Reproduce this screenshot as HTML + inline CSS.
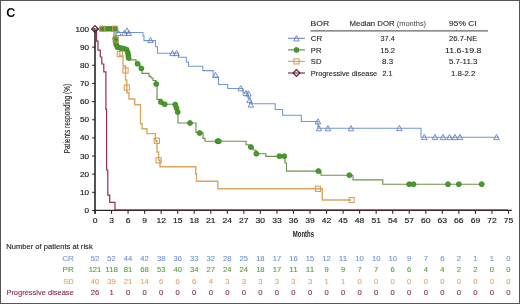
<!DOCTYPE html>
<html><head><meta charset="utf-8"><style>
html,body{margin:0;padding:0;background:#fff;}
.wrap{position:relative;width:520px;height:304px;overflow:hidden;background:#fff;}
svg{position:absolute;left:0;top:0;will-change:transform;}
text{font-family:"Liberation Sans", sans-serif;}
.tk{font-size:6.9px;fill:#222;stroke:#222;stroke-width:0.15px;}
.ylab{font-size:8.2px;fill:#222;stroke:#222;stroke-width:0.12px;}
.xlab{font-size:9px;fill:#222;font-weight:bold;}
.panel{font-size:12.5px;font-weight:bold;fill:#111;}
.lg{font-size:7.4px;fill:#1e1e1e;stroke:#1e1e1e;stroke-width:0.1px;}
.lgl{font-size:7.2px;fill:#444;}
.rk{font-size:7.8px;stroke-width:0.12px;}
</style></head><body><div class="wrap">
<svg width="520" height="304" viewBox="0 0 520 304">
<rect x="0.5" y="0.5" width="519" height="303" fill="#fff" stroke="#555" stroke-width="1"/>
<line x1="95" y1="28.5" x2="95" y2="213.8" stroke="#262626" stroke-width="1.6"/><line x1="94.5" y1="210.3" x2="511.8" y2="210.3" stroke="#262626" stroke-width="1.3"/><line x1="92.2" y1="210.50" x2="95" y2="210.50" stroke="#262626" stroke-width="1.1"/><text x="89.10" y="213.00" class="tk" text-anchor="end" textLength="4.55" lengthAdjust="spacingAndGlyphs">0</text><line x1="92.2" y1="192.35" x2="95" y2="192.35" stroke="#262626" stroke-width="1.1"/><text x="89.10" y="194.85" class="tk" text-anchor="end" textLength="9.10" lengthAdjust="spacingAndGlyphs">10</text><line x1="92.2" y1="174.20" x2="95" y2="174.20" stroke="#262626" stroke-width="1.1"/><text x="89.10" y="176.70" class="tk" text-anchor="end" textLength="9.10" lengthAdjust="spacingAndGlyphs">20</text><line x1="92.2" y1="156.05" x2="95" y2="156.05" stroke="#262626" stroke-width="1.1"/><text x="89.10" y="158.55" class="tk" text-anchor="end" textLength="9.10" lengthAdjust="spacingAndGlyphs">30</text><line x1="92.2" y1="137.90" x2="95" y2="137.90" stroke="#262626" stroke-width="1.1"/><text x="89.10" y="140.40" class="tk" text-anchor="end" textLength="9.10" lengthAdjust="spacingAndGlyphs">40</text><line x1="92.2" y1="119.75" x2="95" y2="119.75" stroke="#262626" stroke-width="1.1"/><text x="89.10" y="122.25" class="tk" text-anchor="end" textLength="9.10" lengthAdjust="spacingAndGlyphs">50</text><line x1="92.2" y1="101.60" x2="95" y2="101.60" stroke="#262626" stroke-width="1.1"/><text x="89.10" y="104.10" class="tk" text-anchor="end" textLength="9.10" lengthAdjust="spacingAndGlyphs">60</text><line x1="92.2" y1="83.45" x2="95" y2="83.45" stroke="#262626" stroke-width="1.1"/><text x="89.10" y="85.95" class="tk" text-anchor="end" textLength="9.10" lengthAdjust="spacingAndGlyphs">70</text><line x1="92.2" y1="65.30" x2="95" y2="65.30" stroke="#262626" stroke-width="1.1"/><text x="89.10" y="67.80" class="tk" text-anchor="end" textLength="9.10" lengthAdjust="spacingAndGlyphs">80</text><line x1="92.2" y1="47.15" x2="95" y2="47.15" stroke="#262626" stroke-width="1.1"/><text x="89.10" y="49.65" class="tk" text-anchor="end" textLength="9.10" lengthAdjust="spacingAndGlyphs">90</text><line x1="92.2" y1="29.00" x2="95" y2="29.00" stroke="#262626" stroke-width="1.1"/><text x="89.10" y="31.50" class="tk" text-anchor="end" textLength="13.65" lengthAdjust="spacingAndGlyphs">100</text><line x1="95.00" y1="210.3" x2="95.00" y2="213.8" stroke="#262626" stroke-width="1.1"/><text x="95.00" y="223.30" class="tk" text-anchor="middle" textLength="4.75" lengthAdjust="spacingAndGlyphs">0</text><line x1="111.54" y1="210.3" x2="111.54" y2="213.8" stroke="#262626" stroke-width="1.1"/><text x="111.54" y="223.30" class="tk" text-anchor="middle" textLength="4.75" lengthAdjust="spacingAndGlyphs">3</text><line x1="128.08" y1="210.3" x2="128.08" y2="213.8" stroke="#262626" stroke-width="1.1"/><text x="128.08" y="223.30" class="tk" text-anchor="middle" textLength="4.75" lengthAdjust="spacingAndGlyphs">6</text><line x1="144.62" y1="210.3" x2="144.62" y2="213.8" stroke="#262626" stroke-width="1.1"/><text x="144.62" y="223.30" class="tk" text-anchor="middle" textLength="4.75" lengthAdjust="spacingAndGlyphs">9</text><line x1="161.16" y1="210.3" x2="161.16" y2="213.8" stroke="#262626" stroke-width="1.1"/><text x="161.16" y="223.30" class="tk" text-anchor="middle" textLength="9.50" lengthAdjust="spacingAndGlyphs">12</text><line x1="177.69" y1="210.3" x2="177.69" y2="213.8" stroke="#262626" stroke-width="1.1"/><text x="177.69" y="223.30" class="tk" text-anchor="middle" textLength="9.50" lengthAdjust="spacingAndGlyphs">15</text><line x1="194.23" y1="210.3" x2="194.23" y2="213.8" stroke="#262626" stroke-width="1.1"/><text x="194.23" y="223.30" class="tk" text-anchor="middle" textLength="9.50" lengthAdjust="spacingAndGlyphs">18</text><line x1="210.77" y1="210.3" x2="210.77" y2="213.8" stroke="#262626" stroke-width="1.1"/><text x="210.77" y="223.30" class="tk" text-anchor="middle" textLength="9.50" lengthAdjust="spacingAndGlyphs">21</text><line x1="227.31" y1="210.3" x2="227.31" y2="213.8" stroke="#262626" stroke-width="1.1"/><text x="227.31" y="223.30" class="tk" text-anchor="middle" textLength="9.50" lengthAdjust="spacingAndGlyphs">24</text><line x1="243.85" y1="210.3" x2="243.85" y2="213.8" stroke="#262626" stroke-width="1.1"/><text x="243.85" y="223.30" class="tk" text-anchor="middle" textLength="9.50" lengthAdjust="spacingAndGlyphs">27</text><line x1="260.39" y1="210.3" x2="260.39" y2="213.8" stroke="#262626" stroke-width="1.1"/><text x="260.39" y="223.30" class="tk" text-anchor="middle" textLength="9.50" lengthAdjust="spacingAndGlyphs">30</text><line x1="276.93" y1="210.3" x2="276.93" y2="213.8" stroke="#262626" stroke-width="1.1"/><text x="276.93" y="223.30" class="tk" text-anchor="middle" textLength="9.50" lengthAdjust="spacingAndGlyphs">33</text><line x1="293.47" y1="210.3" x2="293.47" y2="213.8" stroke="#262626" stroke-width="1.1"/><text x="293.47" y="223.30" class="tk" text-anchor="middle" textLength="9.50" lengthAdjust="spacingAndGlyphs">36</text><line x1="310.01" y1="210.3" x2="310.01" y2="213.8" stroke="#262626" stroke-width="1.1"/><text x="310.01" y="223.30" class="tk" text-anchor="middle" textLength="9.50" lengthAdjust="spacingAndGlyphs">39</text><line x1="326.55" y1="210.3" x2="326.55" y2="213.8" stroke="#262626" stroke-width="1.1"/><text x="326.55" y="223.30" class="tk" text-anchor="middle" textLength="9.50" lengthAdjust="spacingAndGlyphs">42</text><line x1="343.09" y1="210.3" x2="343.09" y2="213.8" stroke="#262626" stroke-width="1.1"/><text x="343.09" y="223.30" class="tk" text-anchor="middle" textLength="9.50" lengthAdjust="spacingAndGlyphs">45</text><line x1="359.62" y1="210.3" x2="359.62" y2="213.8" stroke="#262626" stroke-width="1.1"/><text x="359.62" y="223.30" class="tk" text-anchor="middle" textLength="9.50" lengthAdjust="spacingAndGlyphs">48</text><line x1="376.16" y1="210.3" x2="376.16" y2="213.8" stroke="#262626" stroke-width="1.1"/><text x="376.16" y="223.30" class="tk" text-anchor="middle" textLength="9.50" lengthAdjust="spacingAndGlyphs">51</text><line x1="392.70" y1="210.3" x2="392.70" y2="213.8" stroke="#262626" stroke-width="1.1"/><text x="392.70" y="223.30" class="tk" text-anchor="middle" textLength="9.50" lengthAdjust="spacingAndGlyphs">54</text><line x1="409.24" y1="210.3" x2="409.24" y2="213.8" stroke="#262626" stroke-width="1.1"/><text x="409.24" y="223.30" class="tk" text-anchor="middle" textLength="9.50" lengthAdjust="spacingAndGlyphs">57</text><line x1="425.78" y1="210.3" x2="425.78" y2="213.8" stroke="#262626" stroke-width="1.1"/><text x="425.78" y="223.30" class="tk" text-anchor="middle" textLength="9.50" lengthAdjust="spacingAndGlyphs">60</text><line x1="442.32" y1="210.3" x2="442.32" y2="213.8" stroke="#262626" stroke-width="1.1"/><text x="442.32" y="223.30" class="tk" text-anchor="middle" textLength="9.50" lengthAdjust="spacingAndGlyphs">63</text><line x1="458.86" y1="210.3" x2="458.86" y2="213.8" stroke="#262626" stroke-width="1.1"/><text x="458.86" y="223.30" class="tk" text-anchor="middle" textLength="9.50" lengthAdjust="spacingAndGlyphs">66</text><line x1="475.40" y1="210.3" x2="475.40" y2="213.8" stroke="#262626" stroke-width="1.1"/><text x="475.40" y="223.30" class="tk" text-anchor="middle" textLength="9.50" lengthAdjust="spacingAndGlyphs">69</text><line x1="491.94" y1="210.3" x2="491.94" y2="213.8" stroke="#262626" stroke-width="1.1"/><text x="491.94" y="223.30" class="tk" text-anchor="middle" textLength="9.50" lengthAdjust="spacingAndGlyphs">72</text><line x1="508.47" y1="210.3" x2="508.47" y2="213.8" stroke="#262626" stroke-width="1.1"/><text x="508.47" y="223.30" class="tk" text-anchor="middle" textLength="9.50" lengthAdjust="spacingAndGlyphs">75</text><text transform="translate(69.9,118.6) rotate(-90)" text-anchor="middle" class="ylab" textLength="69.5" lengthAdjust="spacingAndGlyphs">Patients responding (%)</text><text x="303.40" y="236.90" class="xlab" text-anchor="middle" textLength="21.20" lengthAdjust="spacingAndGlyphs">Months</text><text x="6.20" y="17.00" class="panel">C</text><path d="M95,29 H96.5 V41.2 H98 V50.2 H100.3 V57 H101.8 V64 H103.8 V71.8 H105.9 V109.3 H106.6 V170 H107.8 V195.2 H109.7 V202.4 H115 V210.3" fill="none" stroke="#922e50" stroke-width="1.2"/><line x1="114.5" y1="210.3" x2="508" y2="210.3" stroke="#45202c" stroke-width="1.4"/><path d="M95,29 H116 V47 H119.8 V56 H123 V66 H125.5 V80 H126.8 V92.8 H129 V99 H134.7 V104.8 H140.5 V123.7 H142.1 V128.7 H147 V133.6 H155.4 V140.8 H157 V152 H158.6 V160.3 H160 V166.8 H195.8 V174 H196.5 V181.2 H217.8 V188.8 H322.3 V200 H351.5" fill="none" stroke="#dca560" stroke-width="1.4"/><path d="M95,29 H114 V38 H116 V46 H120 V48 H126 V52 H128.5 V59.9 H136 V64 H140 V68.4 H142 V73.4 H149 V76.3 H151 V78 H153 V80.5 H156 V84 H157 V99.3 H161 V104.2 H175.5 V108 H177 V112 H178 V123 H196 V132.5 H203 V138.4 H205 V141.2 H246 V144.7 H249 V147.1 H253 V150 H256 V153.7 H265.8 V156.4 H285 V163 H286.5 V171.1 H321 V175.2 H353 V179.9 H382.8 V184.2 H482" fill="none" stroke="#6f9050" stroke-width="1.15"/><path d="M95,29 H116 V32.5 H143 V36 H144 V40.6 H155.5 V46.7 H157.5 V53.2 H178.4 V57.3 H186.3 V62 H188.5 V66.3 H202.8 V70.6 H213.2 V77 H218.5 V84.4 H227.8 V88.4 H243 V93 H248 V98 H250 V103.7 H275.2 V109.5 H282.6 V115.2 H301.3 V121.4 H318 V128.2 H421 V137.2 H499" fill="none" stroke="#7396d2" stroke-width="1.05"/><rect x="117.20" y="51.40" width="5.2" height="5.2" fill="none" stroke="#cf9a58" stroke-width="1"/><rect x="122.90" y="67.90" width="5.2" height="5.2" fill="none" stroke="#cf9a58" stroke-width="1"/><rect x="124.20" y="85.00" width="5.2" height="5.2" fill="none" stroke="#cf9a58" stroke-width="1"/><rect x="154.20" y="138.20" width="5.2" height="5.2" fill="none" stroke="#cf9a58" stroke-width="1"/><rect x="156.00" y="157.70" width="5.2" height="5.2" fill="none" stroke="#cf9a58" stroke-width="1"/><rect x="315.40" y="186.20" width="5.2" height="5.2" fill="none" stroke="#cf9a58" stroke-width="1"/><rect x="349.00" y="197.40" width="5.2" height="5.2" fill="none" stroke="#cf9a58" stroke-width="1"/><circle cx="102.20" cy="28.80" r="2.5" fill="#4c9a2c" stroke="#34801f" stroke-width="0.7"/><circle cx="105.00" cy="28.80" r="2.5" fill="#4c9a2c" stroke="#34801f" stroke-width="0.7"/><circle cx="108.00" cy="28.80" r="2.5" fill="#4c9a2c" stroke="#34801f" stroke-width="0.7"/><circle cx="111.00" cy="28.80" r="2.5" fill="#4c9a2c" stroke="#34801f" stroke-width="0.7"/><circle cx="113.50" cy="28.80" r="2.5" fill="#4c9a2c" stroke="#34801f" stroke-width="0.7"/><circle cx="115.20" cy="28.80" r="2.5" fill="#4c9a2c" stroke="#34801f" stroke-width="0.7"/><circle cx="115.20" cy="38.50" r="2.5" fill="#4c9a2c" stroke="#34801f" stroke-width="0.7"/><circle cx="115.60" cy="41.50" r="2.5" fill="#4c9a2c" stroke="#34801f" stroke-width="0.7"/><circle cx="116.20" cy="44.50" r="2.5" fill="#4c9a2c" stroke="#34801f" stroke-width="0.7"/><circle cx="117.50" cy="47.20" r="2.5" fill="#4c9a2c" stroke="#34801f" stroke-width="0.7"/><circle cx="120.50" cy="48.00" r="2.5" fill="#4c9a2c" stroke="#34801f" stroke-width="0.7"/><circle cx="123.50" cy="48.50" r="2.5" fill="#4c9a2c" stroke="#34801f" stroke-width="0.7"/><circle cx="126.50" cy="49.50" r="2.5" fill="#4c9a2c" stroke="#34801f" stroke-width="0.7"/><circle cx="127.80" cy="52.50" r="2.5" fill="#4c9a2c" stroke="#34801f" stroke-width="0.7"/><circle cx="128.30" cy="55.50" r="2.5" fill="#4c9a2c" stroke="#34801f" stroke-width="0.7"/><circle cx="128.60" cy="58.00" r="2.5" fill="#4c9a2c" stroke="#34801f" stroke-width="0.7"/><circle cx="137.50" cy="63.80" r="2.5" fill="#4c9a2c" stroke="#34801f" stroke-width="0.7"/><circle cx="141.40" cy="68.40" r="2.5" fill="#4c9a2c" stroke="#34801f" stroke-width="0.7"/><circle cx="156.20" cy="84.00" r="2.5" fill="#4c9a2c" stroke="#34801f" stroke-width="0.7"/><circle cx="160.80" cy="102.00" r="2.5" fill="#4c9a2c" stroke="#34801f" stroke-width="0.7"/><circle cx="164.70" cy="104.20" r="2.5" fill="#4c9a2c" stroke="#34801f" stroke-width="0.7"/><circle cx="175.30" cy="104.60" r="2.5" fill="#4c9a2c" stroke="#34801f" stroke-width="0.7"/><circle cx="176.50" cy="108.00" r="2.5" fill="#4c9a2c" stroke="#34801f" stroke-width="0.7"/><circle cx="177.70" cy="112.00" r="2.5" fill="#4c9a2c" stroke="#34801f" stroke-width="0.7"/><circle cx="190.00" cy="123.00" r="2.5" fill="#4c9a2c" stroke="#34801f" stroke-width="0.7"/><circle cx="199.60" cy="133.00" r="2.5" fill="#4c9a2c" stroke="#34801f" stroke-width="0.7"/><circle cx="217.60" cy="141.20" r="2.5" fill="#4c9a2c" stroke="#34801f" stroke-width="0.7"/><circle cx="218.80" cy="141.20" r="2.5" fill="#4c9a2c" stroke="#34801f" stroke-width="0.7"/><circle cx="250.90" cy="147.10" r="2.5" fill="#4c9a2c" stroke="#34801f" stroke-width="0.7"/><circle cx="256.30" cy="153.70" r="2.5" fill="#4c9a2c" stroke="#34801f" stroke-width="0.7"/><circle cx="279.40" cy="156.20" r="2.5" fill="#4c9a2c" stroke="#34801f" stroke-width="0.7"/><circle cx="284.30" cy="156.20" r="2.5" fill="#4c9a2c" stroke="#34801f" stroke-width="0.7"/><circle cx="318.40" cy="171.10" r="2.5" fill="#4c9a2c" stroke="#34801f" stroke-width="0.7"/><circle cx="349.40" cy="175.20" r="2.5" fill="#4c9a2c" stroke="#34801f" stroke-width="0.7"/><circle cx="409.20" cy="184.20" r="2.5" fill="#4c9a2c" stroke="#34801f" stroke-width="0.7"/><circle cx="413.50" cy="184.20" r="2.5" fill="#4c9a2c" stroke="#34801f" stroke-width="0.7"/><circle cx="448.00" cy="184.20" r="2.5" fill="#4c9a2c" stroke="#34801f" stroke-width="0.7"/><circle cx="458.80" cy="184.20" r="2.5" fill="#4c9a2c" stroke="#34801f" stroke-width="0.7"/><circle cx="481.70" cy="184.20" r="2.5" fill="#4c9a2c" stroke="#34801f" stroke-width="0.7"/><rect x="99.60" y="26.20" width="5.2" height="5.2" fill="none" stroke="#cf9a58" stroke-width="1"/><rect x="112.60" y="26.20" width="5.2" height="5.2" fill="none" stroke="#cf9a58" stroke-width="1"/><rect x="113.20" y="36.90" width="5.2" height="5.2" fill="none" stroke="#cf9a58" stroke-width="1"/><path d="M118.50,30.39 L121.25,35.61 L115.75,35.61 Z" fill="none" stroke="#6580be" stroke-width="0.9"/><path d="M124.50,30.19 L127.25,35.41 L121.75,35.41 Z" fill="none" stroke="#6580be" stroke-width="0.9"/><path d="M127.00,27.89 L129.75,33.11 L124.25,33.11 Z" fill="none" stroke="#6580be" stroke-width="0.9"/><path d="M128.80,30.19 L131.55,35.41 L126.05,35.41 Z" fill="none" stroke="#6580be" stroke-width="0.9"/><path d="M150.50,37.39 L153.25,42.61 L147.75,42.61 Z" fill="none" stroke="#6580be" stroke-width="0.9"/><path d="M172.50,50.39 L175.25,55.61 L169.75,55.61 Z" fill="none" stroke="#6580be" stroke-width="0.9"/><path d="M176.50,50.39 L179.25,55.61 L173.75,55.61 Z" fill="none" stroke="#6580be" stroke-width="0.9"/><path d="M215.50,72.39 L218.25,77.61 L212.75,77.61 Z" fill="none" stroke="#6580be" stroke-width="0.9"/><path d="M240.70,85.59 L243.45,90.81 L237.95,90.81 Z" fill="none" stroke="#6580be" stroke-width="0.9"/><path d="M245.80,90.39 L248.55,95.61 L243.05,95.61 Z" fill="none" stroke="#6580be" stroke-width="0.9"/><path d="M248.50,90.89 L251.25,96.11 L245.75,96.11 Z" fill="none" stroke="#6580be" stroke-width="0.9"/><path d="M249.50,97.39 L252.25,102.61 L246.75,102.61 Z" fill="none" stroke="#6580be" stroke-width="0.9"/><path d="M250.80,101.89 L253.55,107.11 L248.05,107.11 Z" fill="none" stroke="#6580be" stroke-width="0.9"/><path d="M318.00,118.79 L320.75,124.01 L315.25,124.01 Z" fill="none" stroke="#6580be" stroke-width="0.9"/><path d="M319.00,125.59 L321.75,130.81 L316.25,130.81 Z" fill="none" stroke="#6580be" stroke-width="0.9"/><path d="M328.00,125.59 L330.75,130.81 L325.25,130.81 Z" fill="none" stroke="#6580be" stroke-width="0.9"/><path d="M351.00,125.59 L353.75,130.81 L348.25,130.81 Z" fill="none" stroke="#6580be" stroke-width="0.9"/><path d="M399.40,125.39 L402.15,130.61 L396.65,130.61 Z" fill="none" stroke="#6580be" stroke-width="0.9"/><path d="M424.30,134.39 L427.05,139.61 L421.55,139.61 Z" fill="none" stroke="#6580be" stroke-width="0.9"/><path d="M435.00,134.39 L437.75,139.61 L432.25,139.61 Z" fill="none" stroke="#6580be" stroke-width="0.9"/><path d="M443.00,134.39 L445.75,139.61 L440.25,139.61 Z" fill="none" stroke="#6580be" stroke-width="0.9"/><path d="M449.50,134.39 L452.25,139.61 L446.75,139.61 Z" fill="none" stroke="#6580be" stroke-width="0.9"/><path d="M455.00,134.39 L457.75,139.61 L452.25,139.61 Z" fill="none" stroke="#6580be" stroke-width="0.9"/><path d="M460.00,134.39 L462.75,139.61 L457.25,139.61 Z" fill="none" stroke="#6580be" stroke-width="0.9"/><path d="M496.50,134.39 L499.25,139.61 L493.75,139.61 Z" fill="none" stroke="#6580be" stroke-width="0.9"/><path d="M95,25.6 L98.4,29 L95,32.4 L91.6,29 Z" fill="none" stroke="#5e1a2e" stroke-width="1.2"/>
<text x="310.50" y="25.80" class="lg" textLength="18.60" lengthAdjust="spacingAndGlyphs">BOR</text><text x="349.60" y="25.80" class="lg" textLength="45.00" lengthAdjust="spacingAndGlyphs">Median DOR</text><text x="396.70" y="25.80" class="lgl" textLength="29.40" lengthAdjust="spacingAndGlyphs">(months)</text><text x="462.80" y="25.80" class="lg" text-anchor="middle" textLength="27.40" lengthAdjust="spacingAndGlyphs">95% CI</text><line x1="310.5" y1="30.9" x2="488" y2="30.9" stroke="#666" stroke-width="1.3"/><line x1="288" y1="38.3" x2="305" y2="38.3" stroke="#7396d2" stroke-width="1.2"/><text x="310.80" y="40.70" class="lg" textLength="11.40" lengthAdjust="spacingAndGlyphs">CR</text><text x="387.60" y="40.70" class="lg" text-anchor="middle" textLength="14.20" lengthAdjust="spacingAndGlyphs">37.4</text><text x="463.20" y="40.70" class="lg" text-anchor="middle" textLength="28.30" lengthAdjust="spacingAndGlyphs">26.7-NE</text><line x1="288" y1="49.9" x2="305" y2="49.9" stroke="#6f9050" stroke-width="1.2"/><text x="310.80" y="52.50" class="lg" textLength="10.60" lengthAdjust="spacingAndGlyphs">PR</text><text x="387.60" y="52.50" class="lg" text-anchor="middle" textLength="14.80" lengthAdjust="spacingAndGlyphs">15.2</text><text x="463.20" y="52.50" class="lg" text-anchor="middle" textLength="36.20" lengthAdjust="spacingAndGlyphs">11.6-19.8</text><line x1="288" y1="61.4" x2="305" y2="61.4" stroke="#dca560" stroke-width="1.2"/><text x="310.80" y="64.30" class="lg" textLength="10.60" lengthAdjust="spacingAndGlyphs">SD</text><text x="387.60" y="64.30" class="lg" text-anchor="middle" textLength="11.00" lengthAdjust="spacingAndGlyphs">8.3</text><text x="463.20" y="64.30" class="lg" text-anchor="middle" textLength="28.50" lengthAdjust="spacingAndGlyphs">5.7-11.3</text><line x1="288" y1="73.0" x2="305" y2="73.0" stroke="#922e50" stroke-width="1.2"/><text x="310.80" y="75.80" class="lg" textLength="66.40" lengthAdjust="spacingAndGlyphs">Progressive disease</text><text x="387.60" y="75.80" class="lg" text-anchor="middle" textLength="10.20" lengthAdjust="spacingAndGlyphs">2.1</text><text x="463.20" y="75.80" class="lg" text-anchor="middle" textLength="24.40" lengthAdjust="spacingAndGlyphs">1.8-2.2</text><path d="M296.50,35.69 L299.25,40.91 L293.75,40.91 Z" fill="none" stroke="#6580be" stroke-width="0.9"/><circle cx="296.50" cy="49.90" r="2.5" fill="#4c9a2c" stroke="#34801f" stroke-width="0.7"/><rect x="293.90" y="58.80" width="5.2" height="5.2" fill="none" stroke="#cf9a58" stroke-width="1"/><path d="M296.5,69.6 L299.9,73.0 L296.5,76.4 L293.1,73.0 Z" fill="none" stroke="#5e1a2e" stroke-width="1.2"/>
<text x="6.20" y="248.70" class="rk" textLength="86.50" lengthAdjust="spacingAndGlyphs" fill="#222" stroke="#222">Number of patients at risk</text><text x="73.80" y="261.00" class="rk" text-anchor="end" textLength="11.60" lengthAdjust="spacingAndGlyphs" fill="#7096d2" stroke="#7096d2">CR</text><text x="95.00" y="261.00" class="rk" text-anchor="middle" textLength="8.50" lengthAdjust="spacingAndGlyphs" fill="#7096d2" stroke="#7096d2">52</text><text x="111.54" y="261.00" class="rk" text-anchor="middle" textLength="8.50" lengthAdjust="spacingAndGlyphs" fill="#7096d2" stroke="#7096d2">52</text><text x="128.08" y="261.00" class="rk" text-anchor="middle" textLength="8.50" lengthAdjust="spacingAndGlyphs" fill="#7096d2" stroke="#7096d2">44</text><text x="144.62" y="261.00" class="rk" text-anchor="middle" textLength="8.50" lengthAdjust="spacingAndGlyphs" fill="#7096d2" stroke="#7096d2">42</text><text x="161.16" y="261.00" class="rk" text-anchor="middle" textLength="8.50" lengthAdjust="spacingAndGlyphs" fill="#7096d2" stroke="#7096d2">38</text><text x="177.69" y="261.00" class="rk" text-anchor="middle" textLength="8.50" lengthAdjust="spacingAndGlyphs" fill="#7096d2" stroke="#7096d2">36</text><text x="194.23" y="261.00" class="rk" text-anchor="middle" textLength="8.50" lengthAdjust="spacingAndGlyphs" fill="#7096d2" stroke="#7096d2">33</text><text x="210.77" y="261.00" class="rk" text-anchor="middle" textLength="8.50" lengthAdjust="spacingAndGlyphs" fill="#7096d2" stroke="#7096d2">32</text><text x="227.31" y="261.00" class="rk" text-anchor="middle" textLength="8.50" lengthAdjust="spacingAndGlyphs" fill="#7096d2" stroke="#7096d2">28</text><text x="243.85" y="261.00" class="rk" text-anchor="middle" textLength="8.50" lengthAdjust="spacingAndGlyphs" fill="#7096d2" stroke="#7096d2">25</text><text x="260.39" y="261.00" class="rk" text-anchor="middle" textLength="8.50" lengthAdjust="spacingAndGlyphs" fill="#7096d2" stroke="#7096d2">18</text><text x="276.93" y="261.00" class="rk" text-anchor="middle" textLength="8.50" lengthAdjust="spacingAndGlyphs" fill="#7096d2" stroke="#7096d2">17</text><text x="293.47" y="261.00" class="rk" text-anchor="middle" textLength="8.50" lengthAdjust="spacingAndGlyphs" fill="#7096d2" stroke="#7096d2">16</text><text x="310.01" y="261.00" class="rk" text-anchor="middle" textLength="8.50" lengthAdjust="spacingAndGlyphs" fill="#7096d2" stroke="#7096d2">15</text><text x="326.55" y="261.00" class="rk" text-anchor="middle" textLength="8.50" lengthAdjust="spacingAndGlyphs" fill="#7096d2" stroke="#7096d2">12</text><text x="343.09" y="261.00" class="rk" text-anchor="middle" textLength="8.50" lengthAdjust="spacingAndGlyphs" fill="#7096d2" stroke="#7096d2">11</text><text x="359.62" y="261.00" class="rk" text-anchor="middle" textLength="8.50" lengthAdjust="spacingAndGlyphs" fill="#7096d2" stroke="#7096d2">10</text><text x="376.16" y="261.00" class="rk" text-anchor="middle" textLength="8.50" lengthAdjust="spacingAndGlyphs" fill="#7096d2" stroke="#7096d2">10</text><text x="392.70" y="261.00" class="rk" text-anchor="middle" textLength="8.50" lengthAdjust="spacingAndGlyphs" fill="#7096d2" stroke="#7096d2">10</text><text x="409.24" y="261.00" class="rk" text-anchor="middle" textLength="4.25" lengthAdjust="spacingAndGlyphs" fill="#7096d2" stroke="#7096d2">9</text><text x="425.78" y="261.00" class="rk" text-anchor="middle" textLength="4.25" lengthAdjust="spacingAndGlyphs" fill="#7096d2" stroke="#7096d2">7</text><text x="442.32" y="261.00" class="rk" text-anchor="middle" textLength="4.25" lengthAdjust="spacingAndGlyphs" fill="#7096d2" stroke="#7096d2">6</text><text x="458.86" y="261.00" class="rk" text-anchor="middle" textLength="4.25" lengthAdjust="spacingAndGlyphs" fill="#7096d2" stroke="#7096d2">2</text><text x="475.40" y="261.00" class="rk" text-anchor="middle" textLength="4.25" lengthAdjust="spacingAndGlyphs" fill="#7096d2" stroke="#7096d2">1</text><text x="491.94" y="261.00" class="rk" text-anchor="middle" textLength="4.25" lengthAdjust="spacingAndGlyphs" fill="#7096d2" stroke="#7096d2">1</text><text x="508.47" y="261.00" class="rk" text-anchor="middle" textLength="4.25" lengthAdjust="spacingAndGlyphs" fill="#7096d2" stroke="#7096d2">0</text><text x="73.80" y="272.00" class="rk" text-anchor="end" textLength="11.20" lengthAdjust="spacingAndGlyphs" fill="#5a9e40" stroke="#5a9e40">PR</text><text x="95.00" y="272.00" class="rk" text-anchor="middle" textLength="12.75" lengthAdjust="spacingAndGlyphs" fill="#5a9e40" stroke="#5a9e40">121</text><text x="111.54" y="272.00" class="rk" text-anchor="middle" textLength="12.75" lengthAdjust="spacingAndGlyphs" fill="#5a9e40" stroke="#5a9e40">118</text><text x="128.08" y="272.00" class="rk" text-anchor="middle" textLength="8.50" lengthAdjust="spacingAndGlyphs" fill="#5a9e40" stroke="#5a9e40">81</text><text x="144.62" y="272.00" class="rk" text-anchor="middle" textLength="8.50" lengthAdjust="spacingAndGlyphs" fill="#5a9e40" stroke="#5a9e40">68</text><text x="161.16" y="272.00" class="rk" text-anchor="middle" textLength="8.50" lengthAdjust="spacingAndGlyphs" fill="#5a9e40" stroke="#5a9e40">53</text><text x="177.69" y="272.00" class="rk" text-anchor="middle" textLength="8.50" lengthAdjust="spacingAndGlyphs" fill="#5a9e40" stroke="#5a9e40">40</text><text x="194.23" y="272.00" class="rk" text-anchor="middle" textLength="8.50" lengthAdjust="spacingAndGlyphs" fill="#5a9e40" stroke="#5a9e40">34</text><text x="210.77" y="272.00" class="rk" text-anchor="middle" textLength="8.50" lengthAdjust="spacingAndGlyphs" fill="#5a9e40" stroke="#5a9e40">27</text><text x="227.31" y="272.00" class="rk" text-anchor="middle" textLength="8.50" lengthAdjust="spacingAndGlyphs" fill="#5a9e40" stroke="#5a9e40">24</text><text x="243.85" y="272.00" class="rk" text-anchor="middle" textLength="8.50" lengthAdjust="spacingAndGlyphs" fill="#5a9e40" stroke="#5a9e40">24</text><text x="260.39" y="272.00" class="rk" text-anchor="middle" textLength="8.50" lengthAdjust="spacingAndGlyphs" fill="#5a9e40" stroke="#5a9e40">18</text><text x="276.93" y="272.00" class="rk" text-anchor="middle" textLength="8.50" lengthAdjust="spacingAndGlyphs" fill="#5a9e40" stroke="#5a9e40">17</text><text x="293.47" y="272.00" class="rk" text-anchor="middle" textLength="8.50" lengthAdjust="spacingAndGlyphs" fill="#5a9e40" stroke="#5a9e40">11</text><text x="310.01" y="272.00" class="rk" text-anchor="middle" textLength="8.50" lengthAdjust="spacingAndGlyphs" fill="#5a9e40" stroke="#5a9e40">11</text><text x="326.55" y="272.00" class="rk" text-anchor="middle" textLength="4.25" lengthAdjust="spacingAndGlyphs" fill="#5a9e40" stroke="#5a9e40">9</text><text x="343.09" y="272.00" class="rk" text-anchor="middle" textLength="4.25" lengthAdjust="spacingAndGlyphs" fill="#5a9e40" stroke="#5a9e40">9</text><text x="359.62" y="272.00" class="rk" text-anchor="middle" textLength="4.25" lengthAdjust="spacingAndGlyphs" fill="#5a9e40" stroke="#5a9e40">7</text><text x="376.16" y="272.00" class="rk" text-anchor="middle" textLength="4.25" lengthAdjust="spacingAndGlyphs" fill="#5a9e40" stroke="#5a9e40">7</text><text x="392.70" y="272.00" class="rk" text-anchor="middle" textLength="4.25" lengthAdjust="spacingAndGlyphs" fill="#5a9e40" stroke="#5a9e40">6</text><text x="409.24" y="272.00" class="rk" text-anchor="middle" textLength="4.25" lengthAdjust="spacingAndGlyphs" fill="#5a9e40" stroke="#5a9e40">6</text><text x="425.78" y="272.00" class="rk" text-anchor="middle" textLength="4.25" lengthAdjust="spacingAndGlyphs" fill="#5a9e40" stroke="#5a9e40">4</text><text x="442.32" y="272.00" class="rk" text-anchor="middle" textLength="4.25" lengthAdjust="spacingAndGlyphs" fill="#5a9e40" stroke="#5a9e40">4</text><text x="458.86" y="272.00" class="rk" text-anchor="middle" textLength="4.25" lengthAdjust="spacingAndGlyphs" fill="#5a9e40" stroke="#5a9e40">2</text><text x="475.40" y="272.00" class="rk" text-anchor="middle" textLength="4.25" lengthAdjust="spacingAndGlyphs" fill="#5a9e40" stroke="#5a9e40">2</text><text x="491.94" y="272.00" class="rk" text-anchor="middle" textLength="4.25" lengthAdjust="spacingAndGlyphs" fill="#5a9e40" stroke="#5a9e40">0</text><text x="508.47" y="272.00" class="rk" text-anchor="middle" textLength="4.25" lengthAdjust="spacingAndGlyphs" fill="#5a9e40" stroke="#5a9e40">0</text><text x="73.80" y="283.90" class="rk" text-anchor="end" textLength="10.60" lengthAdjust="spacingAndGlyphs" fill="#e4a464" stroke="#e4a464">SD</text><text x="95.00" y="283.90" class="rk" text-anchor="middle" textLength="8.50" lengthAdjust="spacingAndGlyphs" fill="#e4a464" stroke="#e4a464">40</text><text x="111.54" y="283.90" class="rk" text-anchor="middle" textLength="8.50" lengthAdjust="spacingAndGlyphs" fill="#e4a464" stroke="#e4a464">39</text><text x="128.08" y="283.90" class="rk" text-anchor="middle" textLength="8.50" lengthAdjust="spacingAndGlyphs" fill="#e4a464" stroke="#e4a464">21</text><text x="144.62" y="283.90" class="rk" text-anchor="middle" textLength="8.50" lengthAdjust="spacingAndGlyphs" fill="#e4a464" stroke="#e4a464">14</text><text x="161.16" y="283.90" class="rk" text-anchor="middle" textLength="4.25" lengthAdjust="spacingAndGlyphs" fill="#e4a464" stroke="#e4a464">6</text><text x="177.69" y="283.90" class="rk" text-anchor="middle" textLength="4.25" lengthAdjust="spacingAndGlyphs" fill="#e4a464" stroke="#e4a464">6</text><text x="194.23" y="283.90" class="rk" text-anchor="middle" textLength="4.25" lengthAdjust="spacingAndGlyphs" fill="#e4a464" stroke="#e4a464">6</text><text x="210.77" y="283.90" class="rk" text-anchor="middle" textLength="4.25" lengthAdjust="spacingAndGlyphs" fill="#e4a464" stroke="#e4a464">4</text><text x="227.31" y="283.90" class="rk" text-anchor="middle" textLength="4.25" lengthAdjust="spacingAndGlyphs" fill="#e4a464" stroke="#e4a464">3</text><text x="243.85" y="283.90" class="rk" text-anchor="middle" textLength="4.25" lengthAdjust="spacingAndGlyphs" fill="#e4a464" stroke="#e4a464">3</text><text x="260.39" y="283.90" class="rk" text-anchor="middle" textLength="4.25" lengthAdjust="spacingAndGlyphs" fill="#e4a464" stroke="#e4a464">3</text><text x="276.93" y="283.90" class="rk" text-anchor="middle" textLength="4.25" lengthAdjust="spacingAndGlyphs" fill="#e4a464" stroke="#e4a464">3</text><text x="293.47" y="283.90" class="rk" text-anchor="middle" textLength="4.25" lengthAdjust="spacingAndGlyphs" fill="#e4a464" stroke="#e4a464">3</text><text x="310.01" y="283.90" class="rk" text-anchor="middle" textLength="4.25" lengthAdjust="spacingAndGlyphs" fill="#e4a464" stroke="#e4a464">3</text><text x="326.55" y="283.90" class="rk" text-anchor="middle" textLength="4.25" lengthAdjust="spacingAndGlyphs" fill="#e4a464" stroke="#e4a464">1</text><text x="343.09" y="283.90" class="rk" text-anchor="middle" textLength="4.25" lengthAdjust="spacingAndGlyphs" fill="#e4a464" stroke="#e4a464">1</text><text x="359.62" y="283.90" class="rk" text-anchor="middle" textLength="4.25" lengthAdjust="spacingAndGlyphs" fill="#e4a464" stroke="#e4a464">0</text><text x="376.16" y="283.90" class="rk" text-anchor="middle" textLength="4.25" lengthAdjust="spacingAndGlyphs" fill="#e4a464" stroke="#e4a464">0</text><text x="392.70" y="283.90" class="rk" text-anchor="middle" textLength="4.25" lengthAdjust="spacingAndGlyphs" fill="#e4a464" stroke="#e4a464">0</text><text x="409.24" y="283.90" class="rk" text-anchor="middle" textLength="4.25" lengthAdjust="spacingAndGlyphs" fill="#e4a464" stroke="#e4a464">0</text><text x="425.78" y="283.90" class="rk" text-anchor="middle" textLength="4.25" lengthAdjust="spacingAndGlyphs" fill="#e4a464" stroke="#e4a464">0</text><text x="442.32" y="283.90" class="rk" text-anchor="middle" textLength="4.25" lengthAdjust="spacingAndGlyphs" fill="#e4a464" stroke="#e4a464">0</text><text x="458.86" y="283.90" class="rk" text-anchor="middle" textLength="4.25" lengthAdjust="spacingAndGlyphs" fill="#e4a464" stroke="#e4a464">0</text><text x="475.40" y="283.90" class="rk" text-anchor="middle" textLength="4.25" lengthAdjust="spacingAndGlyphs" fill="#e4a464" stroke="#e4a464">0</text><text x="491.94" y="283.90" class="rk" text-anchor="middle" textLength="4.25" lengthAdjust="spacingAndGlyphs" fill="#e4a464" stroke="#e4a464">0</text><text x="508.47" y="283.90" class="rk" text-anchor="middle" textLength="4.25" lengthAdjust="spacingAndGlyphs" fill="#e4a464" stroke="#e4a464">0</text><text x="73.80" y="295.40" class="rk" text-anchor="end" textLength="67.40" lengthAdjust="spacingAndGlyphs" fill="#8a2a55" stroke="#8a2a55">Progressive disease</text><text x="95.00" y="295.40" class="rk" text-anchor="middle" textLength="8.50" lengthAdjust="spacingAndGlyphs" fill="#8a2a55" stroke="#8a2a55">26</text><text x="111.54" y="295.40" class="rk" text-anchor="middle" textLength="4.25" lengthAdjust="spacingAndGlyphs" fill="#8a2a55" stroke="#8a2a55">1</text><text x="128.08" y="295.40" class="rk" text-anchor="middle" textLength="4.25" lengthAdjust="spacingAndGlyphs" fill="#8a2a55" stroke="#8a2a55">0</text><text x="144.62" y="295.40" class="rk" text-anchor="middle" textLength="4.25" lengthAdjust="spacingAndGlyphs" fill="#8a2a55" stroke="#8a2a55">0</text><text x="161.16" y="295.40" class="rk" text-anchor="middle" textLength="4.25" lengthAdjust="spacingAndGlyphs" fill="#8a2a55" stroke="#8a2a55">0</text><text x="177.69" y="295.40" class="rk" text-anchor="middle" textLength="4.25" lengthAdjust="spacingAndGlyphs" fill="#8a2a55" stroke="#8a2a55">0</text><text x="194.23" y="295.40" class="rk" text-anchor="middle" textLength="4.25" lengthAdjust="spacingAndGlyphs" fill="#8a2a55" stroke="#8a2a55">0</text><text x="210.77" y="295.40" class="rk" text-anchor="middle" textLength="4.25" lengthAdjust="spacingAndGlyphs" fill="#8a2a55" stroke="#8a2a55">0</text><text x="227.31" y="295.40" class="rk" text-anchor="middle" textLength="4.25" lengthAdjust="spacingAndGlyphs" fill="#8a2a55" stroke="#8a2a55">0</text><text x="243.85" y="295.40" class="rk" text-anchor="middle" textLength="4.25" lengthAdjust="spacingAndGlyphs" fill="#8a2a55" stroke="#8a2a55">0</text><text x="260.39" y="295.40" class="rk" text-anchor="middle" textLength="4.25" lengthAdjust="spacingAndGlyphs" fill="#8a2a55" stroke="#8a2a55">0</text><text x="276.93" y="295.40" class="rk" text-anchor="middle" textLength="4.25" lengthAdjust="spacingAndGlyphs" fill="#8a2a55" stroke="#8a2a55">0</text><text x="293.47" y="295.40" class="rk" text-anchor="middle" textLength="4.25" lengthAdjust="spacingAndGlyphs" fill="#8a2a55" stroke="#8a2a55">0</text><text x="310.01" y="295.40" class="rk" text-anchor="middle" textLength="4.25" lengthAdjust="spacingAndGlyphs" fill="#8a2a55" stroke="#8a2a55">0</text><text x="326.55" y="295.40" class="rk" text-anchor="middle" textLength="4.25" lengthAdjust="spacingAndGlyphs" fill="#8a2a55" stroke="#8a2a55">0</text><text x="343.09" y="295.40" class="rk" text-anchor="middle" textLength="4.25" lengthAdjust="spacingAndGlyphs" fill="#8a2a55" stroke="#8a2a55">0</text><text x="359.62" y="295.40" class="rk" text-anchor="middle" textLength="4.25" lengthAdjust="spacingAndGlyphs" fill="#8a2a55" stroke="#8a2a55">0</text><text x="376.16" y="295.40" class="rk" text-anchor="middle" textLength="4.25" lengthAdjust="spacingAndGlyphs" fill="#8a2a55" stroke="#8a2a55">0</text><text x="392.70" y="295.40" class="rk" text-anchor="middle" textLength="4.25" lengthAdjust="spacingAndGlyphs" fill="#8a2a55" stroke="#8a2a55">0</text><text x="409.24" y="295.40" class="rk" text-anchor="middle" textLength="4.25" lengthAdjust="spacingAndGlyphs" fill="#8a2a55" stroke="#8a2a55">0</text><text x="425.78" y="295.40" class="rk" text-anchor="middle" textLength="4.25" lengthAdjust="spacingAndGlyphs" fill="#8a2a55" stroke="#8a2a55">0</text><text x="442.32" y="295.40" class="rk" text-anchor="middle" textLength="4.25" lengthAdjust="spacingAndGlyphs" fill="#8a2a55" stroke="#8a2a55">0</text><text x="458.86" y="295.40" class="rk" text-anchor="middle" textLength="4.25" lengthAdjust="spacingAndGlyphs" fill="#8a2a55" stroke="#8a2a55">0</text><text x="475.40" y="295.40" class="rk" text-anchor="middle" textLength="4.25" lengthAdjust="spacingAndGlyphs" fill="#8a2a55" stroke="#8a2a55">0</text><text x="491.94" y="295.40" class="rk" text-anchor="middle" textLength="4.25" lengthAdjust="spacingAndGlyphs" fill="#8a2a55" stroke="#8a2a55">0</text><text x="508.47" y="295.40" class="rk" text-anchor="middle" textLength="4.25" lengthAdjust="spacingAndGlyphs" fill="#8a2a55" stroke="#8a2a55">0</text>
</svg></div></body></html>
